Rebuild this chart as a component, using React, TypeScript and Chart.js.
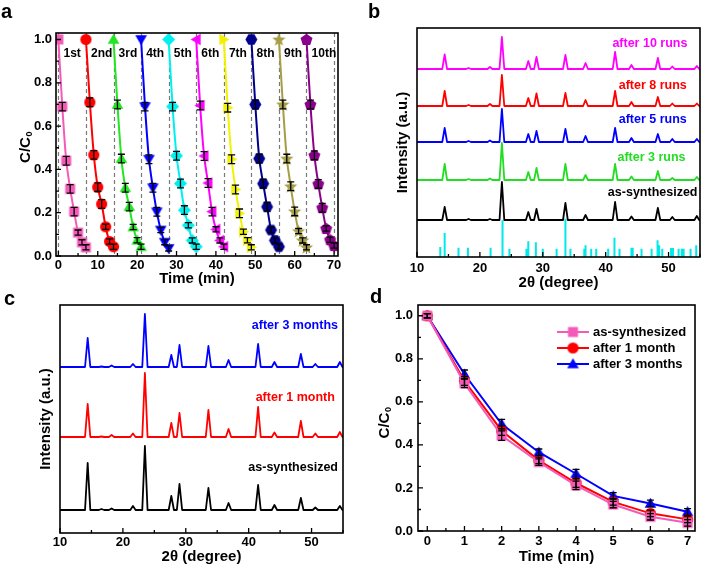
import React, { useEffect, useRef } from "react";
import { Chart, registerables } from "chart.js";

Chart.register(...registerables);

const FONT = "'Liberation Sans', Arial, Helvetica, sans-serif";

// ---------------- Panel a : cycling runs ----------------
const aRunLabels = ["1st", "2nd", "3rd", "4th", "5th", "6th", "7th", "8th", "9th", "10th"];
const aRunColors = ["#F45BB8", "#FF0000", "#22E622", "#0000FF", "#00F0F0", "#FF00FF", "#F2F200", "#00008C", "#A59E45", "#8B008B"];
const aRunMarkers = ["square", "circle", "triUp", "triDown", "diamond", "triLeft", "triRight", "hexagon", "star", "pentagon"];
const aRunLength = 7;
const aTimes = [0, 1, 2, 3, 4, 5, 6, 7];
const aRun1 = [1.0, 0.69, 0.44, 0.31, 0.205, 0.108, 0.063, 0.04];
const aRun2 = [1.0, 0.71, 0.467, 0.318, 0.24, 0.135, 0.067, 0.043];
const aRun3 = [1.0, 0.70, 0.45, 0.315, 0.228, 0.134, 0.073, 0.043];
const aRun4 = [1.0, 0.69, 0.447, 0.315, 0.204, 0.12, 0.064, 0.035];
const aRun5 = [1.0, 0.69, 0.463, 0.335, 0.212, 0.142, 0.072, 0.043];
const aRun6 = [1.0, 0.695, 0.462, 0.337, 0.205, 0.123, 0.072, 0.043];
const aRun7 = [1.0, 0.685, 0.447, 0.307, 0.197, 0.112, 0.073, 0.04];
const aRun8 = [1.0, 0.70, 0.45, 0.334, 0.227, 0.12, 0.072, 0.043];
const aRun9 = [1.0, 0.70, 0.45, 0.322, 0.206, 0.115, 0.072, 0.04];
const aRun10 = [1.0, 0.70, 0.465, 0.333, 0.223, 0.127, 0.075, 0.048];
const aRuns = [aRun1, aRun2, aRun3, aRun4, aRun5, aRun6, aRun7, aRun8, aRun9, aRun10];
const aErr = [0, 0.02, 0.02, 0.02, 0.02, 0.012, 0.012, 0.012];
const aXTicks = [0, 10, 20, 30, 40, 50, 60, 70];
const aYTicks = [0, 0.2, 0.4, 0.6, 0.8, 1.0];
const aRunBounds = [0, 7, 14, 21, 28, 35, 42, 49, 56, 63, 70];

// ---------------- Panel b : XRD after runs ----------------
const bPeaks = [14.4, 18.2, 21.6, 23.5, 27.7, 29.0, 33.6, 36.8, 41.5, 44.1, 48.3, 50.6, 54.5];
const bLabels = ["after 10 runs", "after 8 runs", "after 5 runs", "after 3 runs", "as-synthesized"];
const bColors = ["#FF00FF", "#FF0000", "#0000FF", "#22DD22", "#000000"];
const bBases = [188, 151, 115, 77, 37];
const bRuns10 = [14.7, 1, 2, 32, 8, 12, 14, 6, 17, 4, 11, 2.5, 3];
const bRuns8 = [15, 1, 2, 31, 8, 12.7, 13, 6, 15, 4, 9, 2.5, 2.5];
const bRuns5 = [14, 1, 1.5, 33, 8, 11, 13, 6, 14, 4, 8, 3, 3];
const bRuns3 = [16, 1, 1.5, 37, 8, 12, 16, 5, 16, 3.5, 9, 2, 3];
const bFresh = [13, 1, 1, 38, 8, 11, 17, 5, 18, 3.5, 12, 3, 4];
const bSeries = [bRuns10, bRuns8, bRuns5, bRuns3, bFresh];
const bLabelX = [53.0, 52.9, 52.9, 52.7, 54.6];
const bLabelY = [213, 171, 137, 99, 64];
const bRefPos = [13.7, 14.4, 16.6, 18.1, 21.7, 23.6, 24.7, 27.4, 27.7, 28.9, 30.0, 32.2, 33.6, 34.4, 36.6, 36.8, 37.7, 38.5, 40.4, 41.4, 42.2, 44.1, 44.3, 45.7, 47.3, 48.25, 48.5, 49.0, 50.4, 50.7, 51.6, 52.1, 52.4, 53.5, 54.4];
const bRefInt = [10, 24, 9.3, 9.3, 9.3, 36.7, 8.3, 8.3, 15.7, 14.7, 8.3, 8.3, 38.3, 8.3, 8.3, 11.7, 8.3, 8.3, 8.3, 19.3, 8.3, 9.3, 9.3, 8.3, 8.3, 16.7, 11.7, 8.3, 9, 9, 8.3, 8.3, 8.3, 8.3, 11.7];
const xrdTicks = [10, 20, 30, 40, 50];

// ---------------- Panel c : XRD after storage ----------------
const cPeaks = [14.4, 16.6, 18.2, 21.6, 23.5, 27.7, 29.0, 33.6, 36.8, 41.5, 44.1, 48.3, 50.6, 54.5];
const cLabels = ["after 3 months", "after 1 month", "as-synthesized"];
const cColors = ["#0000FF", "#FF0000", "#000000"];
const cBases = [166, 96, 23];
const c3Months = [29, 0.5, 1.5, 3, 53, 12, 22, 21, 7, 23, 5, 13, 3, 5];
const c1Month = [33, 0.5, 2, 3.5, 64, 14, 24, 27, 8, 30, 4.5, 16, 3.5, 5];
const cFresh = [47, 1, 1.5, 4, 64, 14, 26, 22, 7, 25, 5, 12, 2.5, 4];
const cSeries = [c3Months, c1Month, cFresh];
const cLabelX = [54.2, 53.7, 54.2];
const cLabelY = [207, 135, 65];

// ---------------- Panel d : stability ----------------
const dTimes = [0, 1, 2, 3, 4, 5, 6, 7];
const dLabels = ["as-synthesized", "after 1 month", "after 3 months"];
const dColors = ["#F45BB8", "#FF0000", "#0000FF"];
const dMarkers = ["square", "circle", "triUp"];
const dFresh = [1.0, 0.686, 0.443, 0.32, 0.212, 0.123, 0.066, 0.038];
const d1Month = [1.0, 0.697, 0.466, 0.328, 0.223, 0.135, 0.082, 0.054];
const d3Months = [1.0, 0.728, 0.497, 0.366, 0.266, 0.163, 0.128, 0.089];
const dSeries = [dFresh, d1Month, d3Months];
const dErr = [0.01, 0.02, 0.022, 0.015, 0.02, 0.015, 0.015, 0.015];
const dXTicks = [0, 1, 2, 3, 4, 5, 6, 7];
const dYTicks = [0, 0.2, 0.4, 0.6, 0.8, 1.0];

// ---------------- helpers ----------------
function markerCanvas(shape: string, color: string): HTMLCanvasElement {
  const s = 15;
  const c = document.createElement("canvas");
  c.width = s;
  c.height = s;
  const g = c.getContext("2d")!;
  g.fillStyle = color;
  const cx = s / 2;
  const cy = s / 2;
  const poly = (n: number, r: number, rot: number, ox = 0, oy = 0) => {
    g.beginPath();
    for (let i = 0; i < n; i++) {
      const a = rot + (i * 2 * Math.PI) / n;
      const px = cx + ox + r * Math.cos(a);
      const py = cy + oy + r * Math.sin(a);
      if (i === 0) g.moveTo(px, py);
      else g.lineTo(px, py);
    }
    g.closePath();
  };
  switch (shape) {
    case "square":
      g.beginPath();
      g.rect(cx - 5, cy - 5, 10, 10);
      break;
    case "circle":
      g.beginPath();
      g.arc(cx, cy, 5.6, 0, Math.PI * 2);
      break;
    case "triUp":
      poly(3, 6.7, -Math.PI / 2, 0, 1);
      break;
    case "triDown":
      poly(3, 6.7, Math.PI / 2, 0, -1);
      break;
    case "triLeft":
      poly(3, 6.7, Math.PI, 1, 0);
      break;
    case "triRight":
      poly(3, 6.7, 0, -1, 0);
      break;
    case "diamond":
      poly(4, 6.5, -Math.PI / 2);
      break;
    case "hexagon":
      poly(6, 6, 0);
      break;
    case "pentagon":
      poly(5, 6.3, -Math.PI / 2, 0, 0.5);
      break;
    case "star": {
      g.beginPath();
      for (let i = 0; i < 10; i++) {
        const r = i % 2 === 0 ? 7 : 3;
        const a = -Math.PI / 2 + (i * Math.PI) / 5;
        const px = cx + r * Math.cos(a);
        const py = cy + 0.5 + r * Math.sin(a);
        if (i === 0) g.moveTo(px, py);
        else g.lineTo(px, py);
      }
      g.closePath();
      break;
    }
  }
  g.fill();
  return c;
}

function xrdLine(peaks: number[], heights: number[], base: number, hw: number, xmin: number, xmax: number) {
  const pts: { x: number; y: number }[] = [{ x: xmin, y: base }];
  peaks.forEach((p, i) => {
    pts.push({ x: p - hw, y: base }, { x: p, y: base + heights[i] }, { x: p + hw, y: base });
  });
  pts.push({ x: xmax, y: base });
  return pts;
}

const tickFont = { family: FONT, size: 13, weight: "bold" as const };
const titleFont = { family: FONT, size: 15, weight: "bold" as const, lineHeight: 1.2 };

function xAxis(min: number, max: number, ticks: number[], title: string, height: number, tickPad: number, titlePad: number) {
  return {
    type: "linear",
    min,
    max,
    afterBuildTicks: (s: any) => {
      s.ticks = ticks.map((v) => ({ value: v }));
    },
    afterFit: (s: any) => {
      s.height = height;
    },
    grid: { display: false, drawTicks: false },
    border: { display: false },
    ticks: {
      padding: tickPad,
      font: tickFont,
      color: "#000",
      maxRotation: 0,
      autoSkip: false,
      callback: (v: any) => String(v),
    },
    title: { display: true, text: title, font: titleFont, color: "#000", padding: { top: 0, bottom: titlePad } },
  };
}

function yAxis(min: number, max: number, ticks: number[] | null, width: number, tickPad: number, title: string | null, titlePad: number) {
  return {
    type: "linear",
    min,
    max,
    afterBuildTicks: (s: any) => {
      if (ticks) s.ticks = ticks.map((v) => ({ value: v }));
    },
    afterFit: (s: any) => {
      s.width = width;
    },
    grid: { display: false, drawTicks: false },
    border: { display: false },
    ticks: {
      display: !!ticks,
      padding: tickPad,
      font: tickFont,
      color: "#000",
      autoSkip: false,
      callback: (v: any) => Number(v).toFixed(1),
    },
    title: { display: !!title, text: title || "", font: titleFont, color: "#000", padding: { top: titlePad, bottom: 0 } },
  };
}

type Decor = {
  dashed?: number[];
  errorBars?: boolean;
  xMinor?: number;
  yMinor?: number;
  yTicks?: boolean;
  texts?: { text: string; x: number; y: number; color: string; align: CanvasTextAlign; size: number }[];
  legend?: { label: string; color: string; img: HTMLCanvasElement }[];
  legendAt?: { dx: number; dy: number; row: number; len: number };
  yTitle?: { text: string; sub: string; cx: number; dy: number };
};

function drawInwardTicks(ctx: CanvasRenderingContext2D, scale: any, horizontal: boolean, minor: number | undefined, ca: any) {
  const majors: number[] = scale.ticks.map((t: any) => t.value);
  const draw = (v: number, len: number) => {
    const p = scale.getPixelForValue(v);
    if (horizontal) {
      ctx.moveTo(p, ca.bottom);
      ctx.lineTo(p, ca.bottom - len);
    } else {
      ctx.moveTo(ca.left, p);
      ctx.lineTo(ca.left + len, p);
    }
  };
  ctx.beginPath();
  majors.forEach((v) => draw(v, 5));
  if (minor) {
    const start = Math.ceil(scale.min / minor - 1e-9);
    const end = Math.floor(scale.max / minor + 1e-9);
    for (let k = start; k <= end; k++) {
      const v = k * minor;
      if (majors.some((m) => Math.abs(m - v) < minor * 1e-3)) continue;
      draw(v, 3);
    }
  }
  ctx.stroke();
}

function makeDecor(cfg: Decor) {
  return {
    id: "decor",
    beforeDatasetsDraw(chart: any) {
      if (!cfg.dashed) return;
      const { ctx, chartArea: ca } = chart;
      const x = chart.scales.x;
      ctx.save();
      ctx.strokeStyle = "#7a7a7a";
      ctx.lineWidth = 1.2;
      ctx.setLineDash([4, 3]);
      cfg.dashed.forEach((v) => {
        const px = Math.round(x.getPixelForValue(v)) + 0.5;
        ctx.beginPath();
        ctx.moveTo(px, ca.top);
        ctx.lineTo(px, ca.bottom);
        ctx.stroke();
      });
      ctx.restore();
    },
    afterDatasetsDraw(chart: any) {
      if (!cfg.errorBars) return;
      const { ctx } = chart;
      const y = chart.scales.y;
      ctx.save();
      ctx.strokeStyle = "#000";
      ctx.lineWidth = 1.3;
      chart.data.datasets.forEach((ds: any, i: number) => {
        if (!ds.errors) return;
        const meta = chart.getDatasetMeta(i);
        ds.data.forEach((pt: any, j: number) => {
          const e = ds.errors[j];
          if (!e) return;
          const px = meta.data[j].x;
          const y1 = y.getPixelForValue(pt.y - e);
          const y2 = y.getPixelForValue(pt.y + e);
          ctx.beginPath();
          ctx.moveTo(px, y1);
          ctx.lineTo(px, y2);
          ctx.moveTo(px - 3.5, y1);
          ctx.lineTo(px + 3.5, y1);
          ctx.moveTo(px - 3.5, y2);
          ctx.lineTo(px + 3.5, y2);
          ctx.stroke();
        });
      });
      ctx.restore();
    },
    afterDraw(chart: any) {
      const { ctx, chartArea: ca } = chart;
      const x = chart.scales.x;
      const y = chart.scales.y;
      ctx.save();
      ctx.strokeStyle = "#000";
      ctx.lineWidth = 1.6;
      ctx.strokeRect(ca.left, ca.top, ca.right - ca.left, ca.bottom - ca.top);
      ctx.lineWidth = 1.3;
      drawInwardTicks(ctx, x, true, cfg.xMinor, ca);
      if (cfg.yTicks) drawInwardTicks(ctx, y, false, cfg.yMinor, ca);
      (cfg.texts || []).forEach((t) => {
        ctx.font = `bold ${t.size}px ${FONT}`;
        ctx.fillStyle = t.color;
        ctx.textAlign = t.align;
        ctx.textBaseline = "middle";
        ctx.fillText(t.text, x.getPixelForValue(t.x), y.getPixelForValue(t.y));
      });
      if (cfg.legend && cfg.legendAt) {
        const L = cfg.legendAt;
        cfg.legend.forEach((it, i) => {
          const ly = ca.top + L.dy + i * L.row;
          const lx = ca.left + L.dx;
          ctx.strokeStyle = it.color;
          ctx.lineWidth = 2;
          ctx.beginPath();
          ctx.moveTo(lx, ly);
          ctx.lineTo(lx + L.len, ly);
          ctx.stroke();
          ctx.drawImage(it.img, lx + L.len / 2 - it.img.width / 2, ly - it.img.height / 2);
          ctx.font = `bold 13px ${FONT}`;
          ctx.fillStyle = "#000";
          ctx.textAlign = "left";
          ctx.textBaseline = "middle";
          ctx.fillText(it.label, lx + L.len + 4, ly);
        });
      }
      if (cfg.yTitle) {
        const T = cfg.yTitle;
        const cy = (ca.top + ca.bottom) / 2 + T.dy;
        ctx.translate(T.cx, cy);
        ctx.rotate(-Math.PI / 2);
        ctx.fillStyle = "#000";
        ctx.textAlign = "left";
        ctx.textBaseline = "middle";
        ctx.font = `bold 15px ${FONT}`;
        const w1 = ctx.measureText(T.text).width;
        ctx.font = `bold 9px ${FONT}`;
        const w2 = ctx.measureText(T.sub).width;
        const start = -(w1 + w2) / 2;
        ctx.font = `bold 15px ${FONT}`;
        ctx.fillText(T.text, start, 0);
        ctx.font = `bold 9px ${FONT}`;
        ctx.fillText(T.sub, start + w1 + 0.5, 4);
      }
      ctx.restore();
    },
  };
}

const baseOptions = (padding: any) => ({
  responsive: false,
  animation: false,
  events: [],
  layout: { padding },
  plugins: { legend: { display: false }, tooltip: { enabled: false } },
});

// ---------------- builders ----------------
function buildA(): any {
  const imgs = aRunMarkers.map((m, i) => markerCanvas(m, aRunColors[i]));
  return {
    type: "scatter",
    data: {
      datasets: aRuns.map((vals, i) => ({
        data: vals.map((v, j) => ({ x: i * aRunLength + aTimes[j], y: v })),
        showLine: true,
        borderColor: aRunColors[i],
        backgroundColor: aRunColors[i],
        borderWidth: 2,
        tension: 0.25,
        pointStyle: imgs[i],
        pointRadius: 5,
        errors: aErr,
      })),
    },
    options: {
      ...baseOptions({ left: 0, right: 13, top: 33, bottom: 0 }),
      scales: {
        x: xAxis(-0.6, 71, aXTicks, "Time (min)", 36, 2, 4),
        y: yAxis(0, 1.03, aYTicks, 56, 4, null, 0),
      },
    },
    plugins: [
      makeDecor({
        dashed: aRunBounds,
        errorBars: true,
        xMinor: 5,
        yMinor: 0.1,
        yTicks: true,
        texts: aRunLabels.map((t, i) => ({ text: t, x: i * aRunLength + 1.3, y: 0.935, color: "#000", align: "left" as CanvasTextAlign, size: 12 })),
        yTitle: { text: "C/C", sub: "0", cx: 26, dy: 3 },
      }),
    ],
  };
}

function buildB(): any {
  const datasets: any[] = bSeries.map((h, i) => ({
    data: xrdLine(bPeaks, h, bBases[i], 0.38, 10, 55),
    showLine: true,
    borderColor: bColors[i],
    borderWidth: 1.8,
    borderJoinStyle: "round",
    pointRadius: 0,
  }));
  const sticks: any[] = [];
  bRefPos.forEach((p, i) => {
    sticks.push({ x: p, y: 0 }, { x: p, y: bRefInt[i] }, { x: p, y: null });
  });
  datasets.push({ data: sticks, showLine: true, spanGaps: false, borderColor: "#00E8E8", borderWidth: 2, pointRadius: 0 });
  return {
    type: "scatter",
    data: { datasets },
    options: {
      ...baseOptions({ left: 0, right: 2, top: 28, bottom: 0 }),
      scales: {
        x: xAxis(10, 55, xrdTicks, "2θ (degree)", 35, 4, 0),
        y: yAxis(0, 229, null, 66, 0, "Intensity (a.u.)", 43),
      },
    },
    plugins: [
      makeDecor({
        xMinor: 5,
        texts: bLabels.map((t, i) => ({ text: t, x: bLabelX[i], y: bLabelY[i], color: bColors[i], align: "right" as CanvasTextAlign, size: 12.5 })),
      }),
    ],
  };
}

function buildC(): any {
  return {
    type: "scatter",
    data: {
      datasets: cSeries.map((h, i) => ({
        data: xrdLine(cPeaks, h, cBases[i], 0.42, 10, 55),
        showLine: true,
        borderColor: cColors[i],
        borderWidth: 1.8,
        borderJoinStyle: "round",
        pointRadius: 0,
      })),
    },
    options: {
      ...baseOptions({ left: 0, right: 8, top: 22, bottom: 0 }),
      scales: {
        x: xAxis(10, 55, xrdTicks, "2θ (degree)", 33, 2, 0),
        y: yAxis(0, 228, null, 60, 0, "Intensity (a.u.)", 37),
      },
    },
    plugins: [
      makeDecor({
        xMinor: 5,
        texts: cLabels.map((t, i) => ({ text: t, x: cLabelX[i], y: cLabelY[i], color: cColors[i], align: "right" as CanvasTextAlign, size: 12.5 })),
      }),
    ],
  };
}

function buildD(): any {
  const imgs = dMarkers.map((m, i) => markerCanvas(m, dColors[i]));
  return {
    type: "scatter",
    data: {
      datasets: dSeries.map((vals, i) => ({
        data: vals.map((v, j) => ({ x: dTimes[j], y: v })),
        showLine: true,
        borderColor: dColors[i],
        backgroundColor: dColors[i],
        borderWidth: 2,
        pointStyle: imgs[i],
        pointRadius: 5,
        errors: dErr,
      })),
    },
    options: {
      ...baseOptions({ left: 0, right: 2, top: 22, bottom: 0 }),
      scales: {
        x: xAxis(-0.25, 7.2, dXTicks, "Time (min)", 35, 3, 0),
        y: yAxis(0, 1.05, dYTicks, 67, 5, null, 0),
      },
    },
    plugins: [
      makeDecor({
        errorBars: true,
        xMinor: 0.5,
        yMinor: 0.1,
        yTicks: true,
        legend: dLabels.map((l, i) => ({ label: l, color: dColors[i], img: imgs[i] })),
        legendAt: { dx: 139, dy: 27, row: 16, len: 32 },
        yTitle: { text: "C/C", sub: "0", cx: 34, dy: 5 },
      }),
    ],
  };
}

function ChartBox(props: { left: number; top: number; width: number; height: number; build: () => any }) {
  const ref = useRef<HTMLCanvasElement>(null);
  useEffect(() => {
    const chart = new Chart(ref.current!, props.build());
    return () => chart.destroy();
  }, []);
  return (
    <canvas
      ref={ref}
      width={props.width}
      height={props.height}
      style={{ position: "absolute", left: props.left, top: props.top, width: props.width, height: props.height }}
    />
  );
}

const letterStyle = (left: number, top: number): React.CSSProperties => ({
  position: "absolute",
  left,
  top,
  fontFamily: FONT,
  fontWeight: "bold",
  fontSize: 20,
  lineHeight: "20px",
  color: "#000",
});

export default function App() {
  return (
    <div style={{ position: "absolute", left: 0, top: 0, width: 702, height: 566, background: "#fff", overflow: "hidden" }}>
      <ChartBox left={0} top={0} width={351} height={292} build={buildA} />
      <ChartBox left={351} top={0} width={351} height={292} build={buildB} />
      <ChartBox left={0} top={283} width={351} height={283} build={buildC} />
      <ChartBox left={351} top={283} width={351} height={283} build={buildD} />
      <div style={letterStyle(1, 1)}>a</div>
      <div style={letterStyle(368, 1)}>b</div>
      <div style={letterStyle(4, 288)}>c</div>
      <div style={letterStyle(370, 286)}>d</div>
    </div>
  );
}
